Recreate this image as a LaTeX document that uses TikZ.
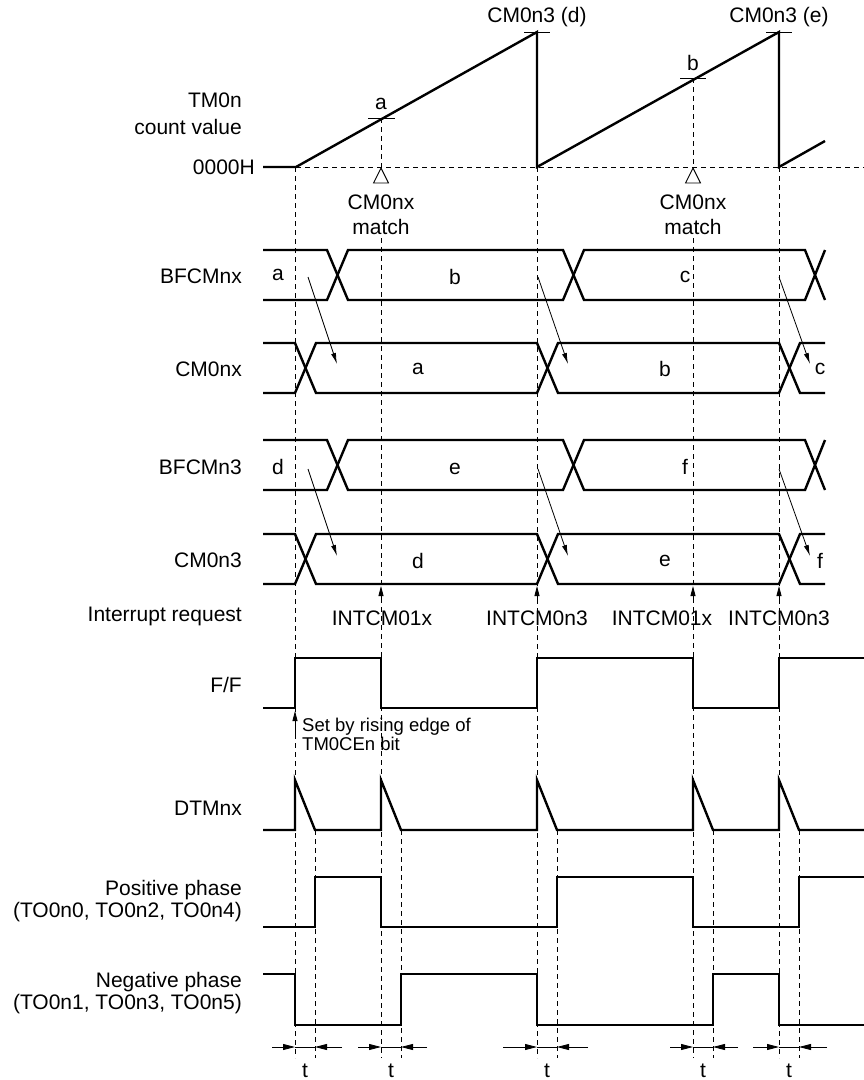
\documentclass[tikz,border=0pt]{standalone}
\usepackage{fontspec}
\setmainfont{Liberation Sans}
\usetikzlibrary{arrows.meta}

\tikzset{
    sig/.style={line width=2.4pt, line join=miter},
    guide/.style={line width=0.9pt, dash pattern=on 5pt off 4pt},
    fine/.style={line width=0.9pt},
    lbl/.style={font=\fontsize{21}{25}\selectfont, inner sep=0pt},
    note/.style={font=\fontsize{18.5}{19}\selectfont, inner sep=0pt, align=left},
    thinarrow/.style={-{Latex[length=11pt,width=5pt]}, line width=0.8pt},
    tarrow/.style={-{Triangle[length=12pt,width=6pt]}, line width=0.8pt},
}

\begin{document}
\begin{tikzpicture}[x=1pt, y=-1pt]
    \useasboundingbox (0,0) rectangle (864,1080);

    % signal names
    \node[lbl, anchor=east, align=right] (tmcount) at (242,114) {TM0n\\[2pt]count value};
    \node[lbl, anchor=east] (zero) at (255,167) {0000H};
    \foreach \n/\c/\y in {bfx/BFCMnx/276, cmx/CM0nx/369, bf3/BFCMn3/467, cm3/CM0n3/560,
                          intreq/Interrupt request/616, dtm/DTMnx/808} {
        \node[lbl, anchor=east] (\n) at (242,\y) {\c};
    }
    \node[lbl, anchor=east] (ff) at (242,685) {F/F};
    \node[lbl, anchor=east, align=right] (pos) at (242,901) {Positive phase\\[-3pt](TO0n0, TO0n2, TO0n4)};
    \node[lbl, anchor=east, align=right] (neg) at (242,993) {Negative phase\\[-3pt](TO0n1, TO0n3, TO0n5)};

    % timing guides
    \foreach \x in {295,537,779} {
        \draw[guide] (\x,167) -- (\x,1058);
    }
    \foreach \x in {315,401,557,713,799} {
        \draw[guide] (\x,830) -- (\x,1058);
    }
    \draw[guide] (381,118) -- (381,167);
    \draw[guide] (381,238) -- (381,1058);
    \draw[guide] (693,78) -- (693,167);
    \draw[guide] (693,238) -- (693,1058);
    \draw[guide] (296,167) -- (864,167);

    % counter
    \draw[sig] (263,167) -- (296,167) -- (537,32) -- (537,167) -- (779,32) -- (779,167) -- (825,141);
    \draw[fine] (524,32) -- (550,32);
    \draw[fine] (766,32) -- (792,32);
    \draw[fine] (368,118) -- (395,118);
    \draw[fine] (680,78) -- (706,78);
    \node[lbl] (topd) at (537,17) {CM0n3 (d)};
    \node[lbl] (tope) at (779,17) {CM0n3 (e)};
    \node[lbl] (cnta) at (381,104) {a};
    \node[lbl] (cntb) at (693,63) {b};
    \foreach \x in {381,693} {
        \draw[fine] (\x,168) -- (\x-7.5,183) -- (\x+7.5,183) -- cycle;
        \node[lbl, align=center] (match\x) at (\x,215) {CM0nx\\[0pt]match};
    }

    % buffer and compare registers
    \foreach \y in {250,440} {
        \draw[sig] (263,\y) -- (327,\y) -- (348,\y+50) -- (563,\y+50) -- (584,\y) -- (805,\y) -- (825,\y+50);
        \draw[sig] (263,\y+50) -- (327,\y+50) -- (348,\y) -- (563,\y) -- (584,\y+50) -- (805,\y+50) -- (825,\y);
    }
    \foreach \y in {343,534} {
        \draw[sig] (263,\y) -- (295,\y) -- (316,\y+50) -- (537,\y+50) -- (558,\y) -- (779,\y) -- (800,\y+50) -- (825,\y+50);
        \draw[sig] (263,\y+50) -- (295,\y+50) -- (316,\y) -- (537,\y) -- (558,\y+50) -- (779,\y+50) -- (800,\y) -- (825,\y);
    }
    \foreach \n/\c/\x/\y in {ba/a/278/275, bb/b/455/277, bc/c/685/277,
                             ca/a/418/369, cb/b/665/369, cc/c/820/369,
                             bd/d/278/467, be/e/455/469, bf/f/685/467,
                             cd/d/418/561, ce/e/665/561, cf/f/820/561} {
        \node[lbl] (v\n) at (\x,\y) {\c};
    }
    \foreach \xa/\xb in {308/337, 538/568, 779/810} {
        \draw[thinarrow] (\xa,277) -- (\xb,364);
        \draw[thinarrow] (\xa,469) -- (\xb,556);
    }

    % interrupts
    \foreach \x in {381,537,693,779} {
        \draw[-{Triangle[length=10pt,width=5pt]}, line width=0.8pt] (\x,602) -- (\x,586);
    }
    \node[lbl] (int1) at (382,618) {INTCM01x};
    \node[lbl] (int2) at (537,618) {INTCM0n3};
    \node[lbl] (int3) at (662,618) {INTCM01x};
    \node[lbl] (int4) at (779,618) {INTCM0n3};

    % F/F
    \draw[sig] (263,708) -- (295,708) -- (295,658) -- (381,658) -- (381,708) -- (537,708) -- (537,658)
        -- (693,658) -- (693,708) -- (779,708) -- (779,658) -- (864,658);
    \draw[-{Triangle[length=10pt,width=5pt]}, line width=0.8pt] (295,734) -- (295,711);
    \node[note, anchor=west] (setby) at (302,734) {Set by rising edge of\\TM0CEn bit};

    % dead time counter
    \draw[sig] (263,830) -- (295,830) -- (295,780) -- (315,830) -- (381,830) -- (381,780) -- (401,830)
        -- (537,830) -- (537,780) -- (557,830) -- (693,830) -- (693,780) -- (713,830)
        -- (779,830) -- (779,780) -- (799,830) -- (864,830);

    % outputs
    \draw[sig] (263,927) -- (315,927) -- (315,877) -- (381,877) -- (381,927) -- (557,927) -- (557,877)
        -- (693,877) -- (693,927) -- (799,927) -- (799,877) -- (864,877);
    \draw[sig] (263,974) -- (295,974) -- (295,1025) -- (401,1025) -- (401,974) -- (537,974) -- (537,1025)
        -- (713,1025) -- (713,974) -- (779,974) -- (779,1025) -- (864,1025);

    % dead time widths
    \foreach \a/\b/\l/\r in {295/315/272/342, 381/401/358/427, 537/557/503/588, 693/713/670/738, 779/799/753/827} {
        \draw[tarrow] (\l,1047) -- (\a,1047);
        \draw[tarrow] (\r,1047) -- (\b,1047);
        \draw[line width=0.8pt] (\a,1047) -- (\b,1047);
        \node[lbl] (t\a) at ({(\a+\b)/2},1071) {t};
    }
\end{tikzpicture}
\end{document}
